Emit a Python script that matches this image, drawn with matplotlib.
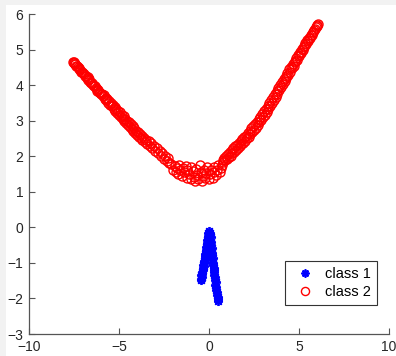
import matplotlib
matplotlib.use('Agg')
import matplotlib.pyplot as plt
from matplotlib.patches import Rectangle

plt.rcParams['font.family'] = ['Liberation Sans', 'DejaVu Sans']

# class 1 (blue asterisks)
class1_x = [0.02, -0.03, 0.0, -0.06, -0.04, -0.09, -0.07, -0.12, -0.1, -0.15,
            -0.13, -0.19, -0.16, -0.22, -0.2, -0.25, -0.23, -0.29, -0.27, -0.33,
            -0.3, -0.36, -0.34, -0.4, -0.37, -0.43, -0.4, -0.46, -0.43,
            0.06, 0.04, 0.09, 0.07, 0.11, 0.1, 0.14, 0.12, 0.17, 0.15,
            0.2, 0.18, 0.23, 0.21, 0.26, 0.25, 0.3, 0.28, 0.33, 0.32,
            0.37, 0.35, 0.41, 0.39, 0.44, 0.43, 0.48, 0.5, 0.52,
            0.0, -0.03, 0.02, -0.05]
class1_y = [-0.1, -0.15, -0.2, -0.25, -0.3, -0.35, -0.4, -0.45, -0.5, -0.55,
            -0.6, -0.65, -0.7, -0.75, -0.8, -0.85, -0.9, -0.95, -1.0, -1.05,
            -1.1, -1.15, -1.2, -1.25, -1.3, -1.35, -1.4, -1.44, -1.48,
            -0.15, -0.22, -0.28, -0.35, -0.42, -0.5, -0.57, -0.64, -0.71, -0.78,
            -0.85, -0.92, -0.99, -1.06, -1.13, -1.2, -1.27, -1.34, -1.41, -1.48,
            -1.55, -1.62, -1.69, -1.76, -1.83, -1.9, -1.96, -2.02, -2.06,
            -0.35, -0.5, -0.62, -0.68]

# class 2 (red circles): left arm, bottom cluster, right arm
class2_x = [-7.55, -7.52, -7.48, -7.45, -7.42, -7.38, -7.35, -7.3, -7.25, -7.2,
            -7.15, -7.1, -7.05, -7.0, -6.95, -6.9, -6.85, -6.8, -6.75, -6.7,
            -6.65, -6.6, -6.55, -6.5, -6.45, -6.4, -6.35, -6.3, -6.25, -6.2,
            -6.15, -6.1, -6.05, -6.0, -5.95, -5.9, -5.85, -5.8, -5.75, -5.7,
            -5.65, -5.6, -5.55, -5.5, -5.45, -5.4, -5.35, -5.3, -5.25, -5.2,
            -5.15, -5.1, -5.05, -5.0, -4.95, -4.9, -4.85, -4.8, -4.75, -4.7,
            -4.65, -4.6, -4.55, -4.5, -4.45, -4.4, -4.35, -4.3, -4.25, -4.2,
            -4.15, -4.1, -4.05, -4.0, -3.95, -3.9, -3.85, -3.8, -3.75, -3.7,
            -3.6, -3.55, -3.5, -3.45, -3.35, -3.3, -3.2, -3.15, -3.05, -3.0,
            -2.9, -2.85, -2.75, -2.65, -2.6, -2.5, -2.45, -2.35, -2.3, -2.2,
            -2.1, -2.0, -1.9, -1.85, -1.8, -1.7, -1.65, -1.6, -1.5, -1.45,
            -1.4, -1.3, -1.25, -1.2, -1.1, -1.0, -1.0, -0.9, -0.85, -0.8,
            -0.7, -0.65, -0.6, -0.5, -0.45, -0.4, -0.35, -0.3, -0.2, -0.15,
            -0.1, 0.0, 0.05, 0.1, 0.2, 0.25, 0.3, 0.4, 0.45, 0.5,
            0.6, 0.65,
            0.7, 0.75, 0.8, 0.85, 0.9, 0.95, 1.0, 1.05, 1.1, 1.15,
            1.2, 1.25, 1.3, 1.35, 1.4, 1.45, 1.5, 1.55, 1.6, 1.65,
            1.7, 1.75, 1.8, 1.85, 1.9, 1.95, 2.0, 2.05, 2.1, 2.15,
            2.2, 2.25, 2.3, 2.35, 2.4, 2.45, 2.5, 2.55, 2.6, 2.65,
            2.7, 2.75, 2.8, 2.85, 2.9, 2.95, 3.0, 3.05, 3.1, 3.15,
            3.2, 3.25, 3.3, 3.35, 3.4, 3.45, 3.5, 3.55, 3.6, 3.65,
            3.7, 3.75, 3.8, 3.85, 3.9, 3.95, 4.0, 4.05, 4.1, 4.15,
            4.2, 4.25, 4.3, 4.35, 4.4, 4.45, 4.5, 4.55, 4.6, 4.65,
            4.7, 4.75, 4.8, 4.85, 4.9, 4.95, 5.0, 5.05, 5.1, 5.15,
            5.2, 5.25, 5.3, 5.35, 5.4, 5.45, 5.5, 5.55, 5.6, 5.65,
            5.7, 5.75, 5.8, 5.85, 5.9, 5.95, 6.0, 6.02, 6.05]
class2_y = [4.66, 4.62, 4.64, 4.58, 4.6, 4.55, 4.54, 4.5, 4.49, 4.44,
            4.43, 4.38, 4.37, 4.33, 4.32, 4.27, 4.26, 4.21, 4.22, 4.15,
            4.16, 4.1, 4.05, 4.07, 4.0, 3.98, 3.97, 3.92, 3.9, 3.84,
            3.87, 3.8, 3.78, 3.74, 3.76, 3.68, 3.72, 3.62, 3.64, 3.57,
            3.6, 3.5, 3.55, 3.45, 3.5, 3.4, 3.44, 3.33, 3.38, 3.28,
            3.34, 3.22, 3.27, 3.15, 3.24, 3.1, 3.16, 3.05, 3.12, 2.98,
            3.06, 2.93, 3.0, 2.88, 2.95, 2.82, 2.9, 2.76, 2.84, 2.7,
            2.78, 2.65, 2.72, 2.6, 2.68, 2.55, 2.62, 2.5, 2.58, 2.46,
            2.52, 2.4, 2.46, 2.34, 2.42, 2.28, 2.36, 2.22, 2.3, 2.16,
            2.24, 2.08, 2.14, 2.0, 2.1, 1.92, 2.02, 1.86, 1.96, 1.82,
            1.78, 1.62, 1.72, 1.55, 1.66, 1.5, 1.74, 1.6, 1.45, 1.68,
            1.55, 1.72, 1.4, 1.6, 1.5, 1.35, 1.7, 1.58, 1.42, 1.3,
            1.65, 1.48, 1.36, 1.75, 1.55, 1.3, 1.45, 1.62, 1.38, 1.52,
            1.7, 1.35, 1.5, 1.62, 1.4, 1.56, 1.7, 1.48, 1.62, 1.75,
            1.55, 1.68,
            1.76, 1.9, 1.84, 1.96, 1.88, 2.02, 1.92, 2.06, 1.98, 2.12,
            2.02, 2.18, 2.08, 2.22, 2.12, 2.28, 2.18, 2.32, 2.22, 2.38,
            2.28, 2.42, 2.34, 2.48, 2.38, 2.54, 2.44, 2.58, 2.5, 2.65,
            2.55, 2.72, 2.62, 2.78, 2.68, 2.84, 2.74, 2.9, 2.8, 2.97,
            2.88, 3.04, 2.95, 3.11, 3.02, 3.19, 3.1, 3.26, 3.17, 3.34,
            3.25, 3.42, 3.33, 3.5, 3.42, 3.58, 3.5, 3.66, 3.58, 3.74,
            3.67, 3.83, 3.76, 3.92, 3.85, 4.0, 3.94, 4.1, 4.03, 4.18,
            4.12, 4.26, 4.2, 4.35, 4.29, 4.44, 4.38, 4.52, 4.47, 4.6,
            4.55, 4.68, 4.64, 4.77, 4.72, 4.85, 4.81, 4.93, 4.9, 5.01,
            4.98, 5.1, 5.07, 5.18, 5.15, 5.26, 5.23, 5.33, 5.32, 5.4,
            5.4, 5.48, 5.48, 5.56, 5.57, 5.64, 5.65, 5.7, 5.72]

x_ticks = [-10, -5, 0, 5, 10]
y_ticks = [-3, -2, -1, 0, 1, 2, 3, 4, 5, 6]

fig = plt.figure(figsize=(3.96, 3.56), dpi=100)
fig.patch.set_facecolor('#f2f2f2')
fig.patches.append(Rectangle((6 / 396, 0), 1, 1 - 5 / 356, transform=fig.transFigure,
                             facecolor='white', edgecolor='none', zorder=-1))

ax = fig.add_axes([29 / 396, 1 - 334 / 356, 360 / 396, 320 / 356])
ax.set_facecolor('white')

ax.plot(class1_x, class1_y, linestyle='none', marker=(8, 2, 0), ms=6.5, mew=1.3,
        color='#0000ff', label='class 1')
ax.plot(class2_x, class2_y, linestyle='none', marker='o', ms=6.5, mew=1.0,
        mfc='none', mec='#ff0000', label='class 2')

ax.set_xlim(-10, 10)
ax.set_ylim(-3, 6)
ax.set_xticks(x_ticks)
ax.set_yticks(y_ticks)

for s in ['top', 'right']:
    ax.spines[s].set_visible(False)
for s in ['left', 'bottom']:
    ax.spines[s].set_color('#555555')
    ax.spines[s].set_linewidth(0.9)
ax.tick_params(direction='in', length=4, width=0.8, color='#555555',
               labelcolor='#262626', labelsize=10, pad=4)

leg = ax.legend(loc='lower right', bbox_to_anchor=(0.967, 0.09), borderaxespad=0,
                fancybox=False, framealpha=1, edgecolor='#333333', fontsize=10.5,
                handlelength=2.0, handletextpad=0.4, borderpad=0.4, labelspacing=0.3,
                markerscale=0.9)
leg.get_frame().set_linewidth(0.8)

fig.savefig('out.png', dpi=100, facecolor=fig.get_facecolor())
